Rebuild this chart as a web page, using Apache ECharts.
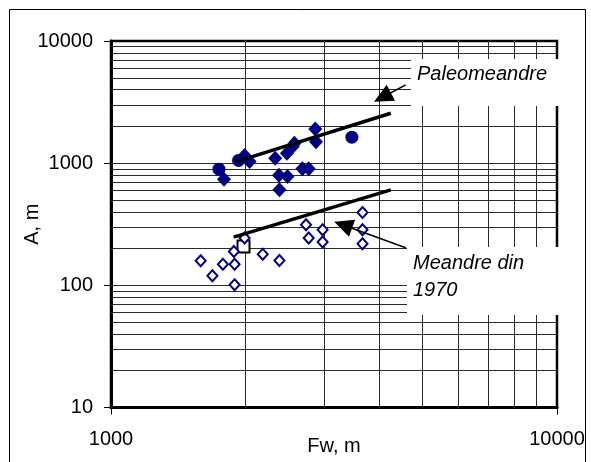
<!DOCTYPE html>
<html>
<head>
<meta charset="utf-8">
<script src="https://cdn.jsdelivr.net/npm/echarts@6/dist/echarts.min.js"></script>
<style>
  html, body { margin: 0; padding: 0; background: #fff; }
  #chart { width: 591px; height: 462px; }
</style>
</head>
<body>
<div id="chart"></div>
<script>
// data (Fw, A)
const paleoDiamonds = [
  [1792, 737], [1993, 1158], [2045, 1031], [2334, 1099], [2480, 1207],
  [2556, 1367], [2578, 1457], [2871, 1908], [2882, 1494], [2380, 795],
  [2487, 777], [2686, 898], [2775, 898], [2386, 605]
];
const paleoCircles = [[1746, 893], [1932, 1054], [3468, 1632]];
const meandre1970 = [
  [1589, 159], [1688, 120], [1782, 149], [1886, 189], [1893, 149],
  [1893, 101], [1993, 244], [2189, 180], [2386, 160], [2737, 313],
  [2775, 244], [2982, 285], [2982, 226], [3664, 395], [3664, 285], [3664, 219]
];
const refSquare = [[1982, 208]];
const paleoTrend = [[1909, 1031], [4240, 2563]];
const trend1970 = [[1883, 248], [4240, 605]];
// arrows: [tail, middle of the arrow head]
const paleoArrow = [[4579, 4367], [4061, 3465]];
const arrow1970 = [[4579, 203], [3315, 312]];

// minor grid lines of the log axes
const gridX = [2000, 3000, 4000, 5000, 6000, 7000, 8000, 9000];
const gridY = [20, 30, 40, 50, 60, 70, 80, 90, 100,
  200, 300, 400, 500, 600, 700, 800, 900, 1000,
  2000, 3000, 4000, 5000, 6000, 7000, 8000, 9000];

const FONT = '"Liberation Sans", Arial, sans-serif';
const chart = echarts.init(document.getElementById('chart'));

const gridLines = []
  .concat(gridX.map(v => ({ xAxis: v })))
  .concat(gridY.map(v => ({ yAxis: v })));

function arrowLine(a) {
  return [{ coord: a[0] }, { coord: a[1] }];
}

const plainNum = v => String(Math.round(v));

const option = {
  animation: false,
  backgroundColor: '#fff',
  grid: {
    left: 111, right: 34, top: 41, bottom: 54.5,
    containLabel: false, outerBoundsMode: 'none',
    show: true, borderColor: '#000', borderWidth: 2.5
  },
  xAxis: {
    type: 'log', logBase: 10, min: 1000, max: 10000,
    name: 'Fw, m', nameLocation: 'middle', nameGap: 29, nameMoveOverlap: false,
    nameTextStyle: { fontFamily: FONT, fontSize: 20, color: '#000' },
    axisLine: { lineStyle: { color: '#000', width: 3 } },
    axisTick: { show: true, length: 7, lineStyle: { color: '#000', width: 1 } },
    axisLabel: { fontFamily: FONT, fontSize: 20, color: '#000', margin: 22,
      formatter: plainNum, showMinLabel: true, showMaxLabel: true },
    splitLine: { show: false },
    minorTick: { show: false }
  },
  yAxis: {
    type: 'log', logBase: 10, min: 10, max: 10000,
    name: 'A, m', nameLocation: 'middle', nameGap: 69, nameMoveOverlap: false,
    nameTextStyle: { fontFamily: FONT, fontSize: 20, color: '#000' },
    axisLine: { show: true, lineStyle: { color: '#000', width: 3 } },
    axisTick: { show: true, length: 7, lineStyle: { color: '#000', width: 1 } },
    axisLabel: { fontFamily: FONT, fontSize: 20, color: '#000', margin: 18,
      formatter: plainNum, showMinLabel: true, showMaxLabel: true },
    splitLine: { show: false }
  },
  series: [
    {
      // grid lines
      type: 'line', data: [], silent: true,
      markLine: {
        silent: true, symbol: 'none', z: 1, animation: false,
        label: { show: false },
        lineStyle: { color: '#2a2a2a', width: 1, type: 'solid' },
        data: gridLines
      }
    },
    {
      type: 'line', data: paleoTrend, symbol: 'none', z: 4,
      lineStyle: { color: '#000', width: 3.5 },
      markLine: {
        silent: true, z: 6, animation: false,
        symbol: ['none', 'triangle'], symbolSize: [18, 19],
        label: { show: false },
        lineStyle: { color: '#000', width: 1.5, type: 'solid' },
        data: [arrowLine(paleoArrow), arrowLine(arrow1970)]
      }
    },
    {
      type: 'line', data: trend1970, symbol: 'none', z: 4,
      lineStyle: { color: '#000', width: 3.5 }
    },
    {
      type: 'scatter', data: paleoDiamonds, z: 3,
      symbol: 'diamond', symbolSize: [14, 15],
      itemStyle: { color: '#000080', opacity: 1 }
    },
    {
      type: 'scatter', data: paleoCircles, z: 3,
      symbol: 'circle', symbolSize: 13,
      itemStyle: { color: '#000080', opacity: 1 }
    },
    {
      type: 'scatter', data: refSquare, z: 3,
      symbol: 'rect', symbolSize: 12,
      itemStyle: { color: '#fff', borderColor: '#000', borderWidth: 2, opacity: 1 }
    },
    {
      type: 'scatter', data: meandre1970, z: 3,
      symbol: 'diamond', symbolSize: [10, 11],
      itemStyle: { color: '#fff', borderColor: '#000080', borderWidth: 2, opacity: 1 }
    }
  ],
  graphic: [
    // outer chart frame
    { type: 'rect', z: 0, silent: true,
      shape: { x: 9.5, y: 9.5, width: 576, height: 470 },
      style: { fill: 'none', stroke: '#000', lineWidth: 1 } },
    // text boxes
    { type: 'rect', z: 100, silent: true,
      shape: { x: 411, y: 59, width: 152, height: 47 },
      style: { fill: '#fff' } },
    { type: 'text', z: 101, silent: true, x: 417, y: 74,
      style: { text: 'Paleomeandre', font: 'italic 20px ' + FONT, fill: '#000', verticalAlign: 'middle' } },
    { type: 'rect', z: 100, silent: true,
      shape: { x: 407, y: 247, width: 156, height: 68 },
      style: { fill: '#fff' } },
    { type: 'text', z: 101, silent: true, x: 413, y: 249.5,
      style: { text: 'Meandre din\n1970', font: 'italic 20px ' + FONT, lineHeight: 27, fill: '#000', verticalAlign: 'top' } }
  ]
};

chart.setOption(option);
window.addEventListener('resize', () => chart.resize());
</script>
</body>
</html>
